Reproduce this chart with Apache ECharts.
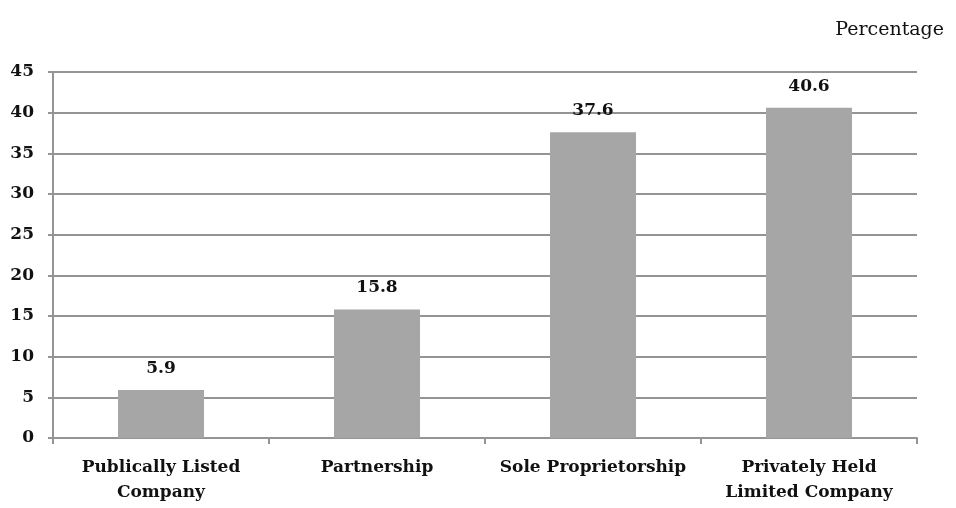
<!DOCTYPE html>
<html>
<head>
<meta charset="utf-8">
<script src="https://cdn.jsdelivr.net/npm/echarts@6/dist/echarts.min.js"></script>
<style>
  html, body { margin: 0; padding: 0; background: #fff; }
  #chart { width: 956px; height: 508px; }
</style>
</head>
<body>
<div id="chart"></div>
<script>
// Ownership type shares (percent)
const categories = ['Publically Listed\nCompany', 'Partnership', 'Sole Proprietorship', 'Privately Held\nLimited Company'];
const shares = [5.9, 15.8, 37.6, 40.6];
const unitLabel = 'Percentage';

const serif = '"DejaVu Serif", "Liberation Serif", serif';
const chart = echarts.init(document.getElementById('chart'));
chart.setOption({
  animation: false,
  backgroundColor: '#ffffff',
  title: {
    text: unitLabel,
    right: 7,
    top: 16,
    textStyle: { fontFamily: serif, fontWeight: 'normal', fontSize: 19, color: '#111' }
  },
  grid: { left: 53, right: 39, top: 72, bottom: 70, containLabel: false },
  xAxis: {
    type: 'category',
    data: categories,
    axisLine: { lineStyle: { color: '#949494', width: 2 } },
    axisTick: { show: true, length: 6, lineStyle: { color: '#949494', width: 2 } },
    axisLabel: {
      fontFamily: serif, fontWeight: 'bold', fontSize: 17, color: '#111',
      margin: 17, lineHeight: 25, interval: 0
    }
  },
  yAxis: {
    type: 'value',
    min: 0, max: 45, interval: 5,
    axisLine: { show: true, lineStyle: { color: '#949494', width: 2 } },
    axisTick: { show: true, length: 5, lineStyle: { color: '#949494', width: 2 } },
    splitLine: { lineStyle: { color: '#949494', width: 2 } },
    axisLabel: { fontFamily: serif, fontWeight: 'bold', fontSize: 17, color: '#111', margin: 19 }
  },
  series: [{
    type: 'bar',
    data: shares,
    barWidth: 86,
    itemStyle: { color: '#a6a6a6' },
    label: {
      show: true, position: 'top', distance: 13,
      fontFamily: serif, fontWeight: 'bold', fontSize: 17, color: '#111'
    }
  }]
});
</script>
</body>
</html>
